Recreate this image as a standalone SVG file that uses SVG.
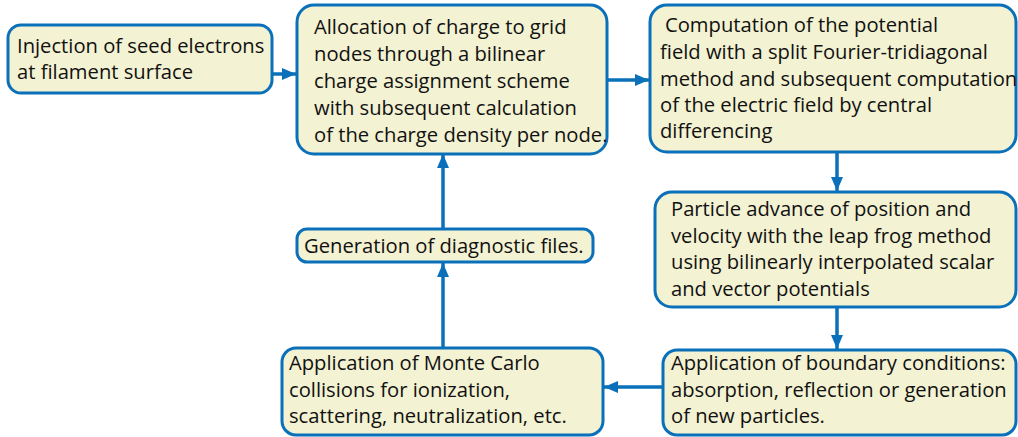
<svg xmlns="http://www.w3.org/2000/svg" width="1018" height="437" viewBox="0 0 1018 437">
<defs>
<style>
.box{fill:#f3f2d2;stroke:#0a70b9;stroke-width:3}
.t{font-family:"Open Sans","Noto Sans","Liberation Sans",sans-serif;font-size:20.2px;fill:#111}
.c{stroke:#0a70b9;stroke-width:3.5;fill:none;marker-end:url(#ah)}
</style>
<marker id="ah" viewBox="0 0 14 12" refX="14" refY="6" markerWidth="14" markerHeight="12" markerUnits="userSpaceOnUse" orient="auto">
<path d="M0,0 L14,6 L0,12 z" fill="#0a70b9"/>
</marker>
</defs>
<g id="connectors">
<line class="c" x1="272" y1="74" x2="296" y2="74"/>
<line class="c" x1="607" y1="80" x2="649" y2="80"/>
<line class="c" x1="837" y1="152" x2="837" y2="191"/>
<line class="c" x1="837" y1="307" x2="837" y2="349"/>
<line class="c" x1="663" y1="387" x2="604" y2="387"/>
<line class="c" x1="443" y1="348" x2="443" y2="263"/>
<line class="c" x1="443" y1="229" x2="443" y2="154"/>
</g>
<g id="n1">
<rect class="box" x="8" y="25" width="264" height="68" rx="13"/>
<text class="t" x="17" y="53">Injection of seed electrons</text>
<text class="t" x="17" y="79">at filament surface</text>
</g>
<g id="n2">
<rect class="box" x="297" y="5" width="310" height="149" rx="17"/>
<text class="t" x="314" y="34">Allocation of charge to grid</text>
<text class="t" x="314" y="61">nodes through a bilinear</text>
<text class="t" x="314" y="88">charge assignment scheme</text>
<text class="t" x="314" y="115">with subsequent calculation</text>
<text class="t" x="314" y="142">of the charge density per node.</text>
</g>
<g id="n3">
<rect class="box" x="650" y="5" width="366" height="147" rx="17"/>
<text class="t" x="665" y="32">Computation of the potential</text>
<text class="t" x="660" y="59">field with a split Fourier-tridiagonal</text>
<text class="t" x="660" y="86">method and subsequent computation</text>
<text class="t" x="660" y="112">of the electric field by central</text>
<text class="t" x="660" y="138">differencing</text>
</g>
<g id="n4">
<rect class="box" x="655" y="192" width="361" height="115" rx="17"/>
<text class="t" x="671" y="216">Particle advance of position and</text>
<text class="t" x="671" y="243">velocity with the leap frog method</text>
<text class="t" x="671" y="269">using bilinearly interpolated scalar</text>
<text class="t" x="671" y="296">and vector potentials</text>
</g>
<g id="n5">
<rect class="box" x="663" y="350" width="353" height="85" rx="14"/>
<text class="t" x="671" y="370">Application of boundary conditions:</text>
<text class="t" x="671" y="397">absorption, reflection or generation</text>
<text class="t" x="671" y="423">of new particles.</text>
</g>
<g id="n6">
<rect class="box" x="297" y="229" width="296" height="33" rx="10"/>
<text class="t" x="304" y="253">Generation of diagnostic files.</text>
</g>
<g id="n7">
<rect class="box" x="282" y="348" width="321" height="87" rx="14"/>
<text class="t" x="289" y="370">Application of Monte Carlo</text>
<text class="t" x="289" y="397">collisions for ionization,</text>
<text class="t" x="289" y="423">scattering, neutralization, etc.</text>
</g>
</svg>
